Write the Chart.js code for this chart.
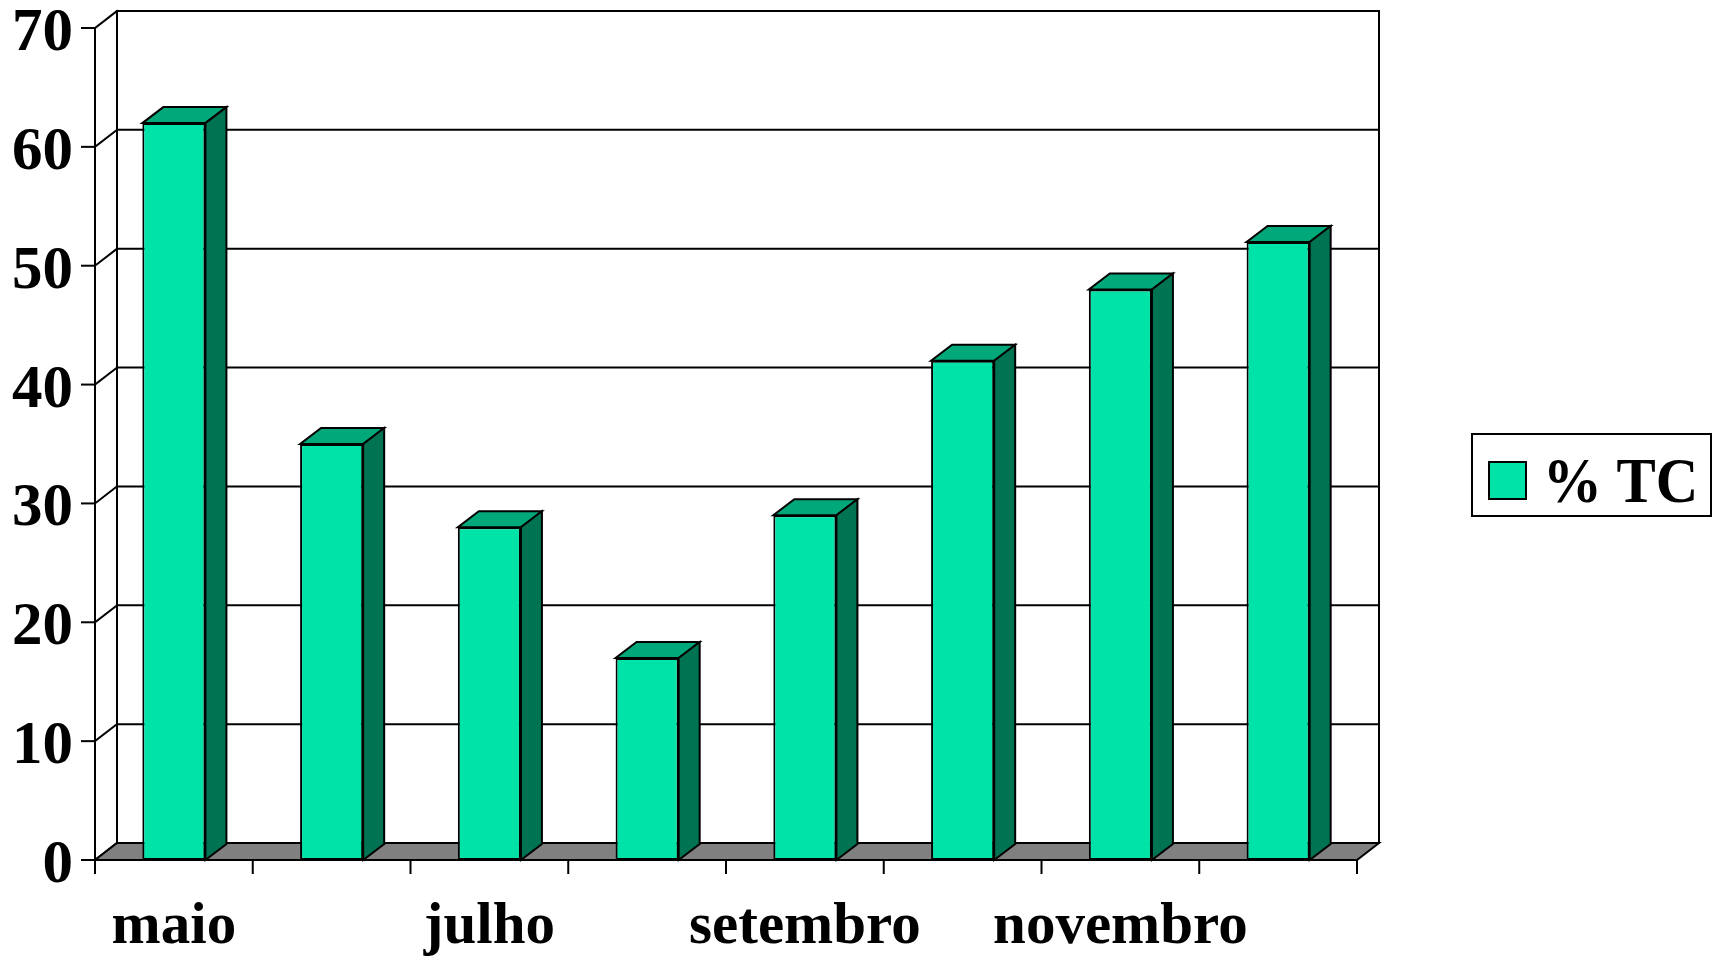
<!DOCTYPE html>
<html>
<head>
<meta charset="utf-8">
<title>% TC</title>
<script src="https://cdn.jsdelivr.net/npm/chart.js@4/dist/chart.umd.min.js"></script>
<style>
  html, body { margin: 0; padding: 0; background: #ffffff; }
  canvas { display: block; }
</style>
</head>
<body>
<canvas id="chart" width="1719" height="956"></canvas>
<script>
// Monthly share of TC (%)
const months = ['maio', 'junho', 'julho', 'agosto', 'setembro', 'outubro', 'novembro', 'dezembro'];
const tcValues = [62, 35, 28, 17, 29, 42, 48, 52];
const yTicks = [0, 10, 20, 30, 40, 50, 60, 70];
const seriesLabel = '% TC';

const FRONT = '#00E3A8';
const TOP = '#00A87A';
const SIDE = '#007352';
const FLOOR = '#808080';
const FONT = '"Liberation Serif", "Times New Roman", serif';

// depth of the 3-D box (walls) and of each column
const WALL_DX = 22, WALL_DY = -17;
const BAR_DX = 21, BAR_DY = -16;

function line(ctx, x1, y1, x2, y2) {
  ctx.beginPath();
  ctx.moveTo(x1, y1);
  ctx.lineTo(x2, y2);
  ctx.stroke();
}

function poly(ctx, pts, fill) {
  ctx.beginPath();
  ctx.moveTo(pts[0][0], pts[0][1]);
  for (let i = 1; i < pts.length; i++) ctx.lineTo(pts[i][0], pts[i][1]);
  ctx.closePath();
  ctx.fillStyle = fill;
  ctx.fill();
  ctx.stroke();
}

const box3d = {
  id: 'box3d',
  beforeDatasetsDraw(chart) {
    const ctx = chart.ctx;
    const { left, right } = chart.chartArea;
    const ys = chart.scales.y;
    const xs = chart.scales.x;
    const yMin = ys.getPixelForValue(yTicks[0]);
    const yMax = ys.getPixelForValue(yTicks[yTicks.length - 1]);
    ctx.save();
    ctx.strokeStyle = '#000';
    ctx.lineWidth = 2;
    ctx.lineCap = 'square';

    // back-wall gridlines and left-wall diagonals
    yTicks.forEach(v => {
      const py = ys.getPixelForValue(v);
      if (v > 0) line(ctx, left + WALL_DX, py + WALL_DY, right + WALL_DX, py + WALL_DY);
      line(ctx, left, py, left + WALL_DX, py + WALL_DY);
    });
    // back-wall edges
    line(ctx, left + WALL_DX, yMax + WALL_DY, left + WALL_DX, yMin + WALL_DY);
    line(ctx, right + WALL_DX, yMax + WALL_DY, right + WALL_DX, yMin + WALL_DY);

    // floor
    poly(ctx, [[left, yMin], [right, yMin], [right + WALL_DX, yMin + WALL_DY], [left + WALL_DX, yMin + WALL_DY]], FLOOR);

    // front value axis and its ticks
    line(ctx, left, yMax, left, yMin);
    yTicks.forEach(v => {
      const py = ys.getPixelForValue(v);
      line(ctx, left - 13, py, left, py);
    });

    // category ticks at the boundaries
    const step = xs.getPixelForValue(1) - xs.getPixelForValue(0);
    for (let i = 0; i <= months.length; i++) {
      const px = xs.getPixelForValue(0) - step / 2 + i * step;
      line(ctx, px, yMin, px, yMin + 13);
    }
    ctx.restore();
  },
  afterDatasetsDraw(chart) {
    const ctx = chart.ctx;
    const meta = chart.getDatasetMeta(0);
    ctx.save();
    ctx.strokeStyle = '#000';
    ctx.lineWidth = 2;
    ctx.lineJoin = 'miter';
    meta.data.forEach(bar => {
      const p = bar.getProps(['x', 'y', 'base', 'width'], true);
      const l = p.x - p.width / 2, r = p.x + p.width / 2;
      // top face
      poly(ctx, [[l, p.y], [r, p.y], [r + BAR_DX, p.y + BAR_DY], [l + BAR_DX, p.y + BAR_DY]], TOP);
      // side face
      poly(ctx, [[r, p.y], [r + BAR_DX, p.y + BAR_DY], [r + BAR_DX, p.base + BAR_DY], [r, p.base]], SIDE);
    });
    ctx.restore();
  },
  afterDraw(chart) {
    const ctx = chart.ctx;
    const { left } = chart.chartArea;
    const ys = chart.scales.y;
    const xs = chart.scales.x;
    ctx.save();
    ctx.fillStyle = '#000';

    // value labels
    ctx.font = 'bold 61px ' + FONT;
    ctx.textAlign = 'right';
    ctx.textBaseline = 'alphabetic';
    yTicks.forEach(v => {
      ctx.fillText(String(v), left - 22, ys.getPixelForValue(v) + 22);
    });

    // month labels (every second one)
    ctx.font = 'bold 59px ' + FONT;
    ctx.textAlign = 'center';
    months.forEach((m, i) => {
      if (i % 2 === 0) ctx.fillText(m, xs.getPixelForValue(i), 943);
    });

    // legend
    ctx.strokeStyle = '#000';
    ctx.lineWidth = 2;
    ctx.strokeRect(1472, 434, 239, 82);
    ctx.fillStyle = FRONT;
    ctx.fillRect(1489, 462, 37, 37);
    ctx.strokeRect(1489, 462, 37, 37);
    ctx.fillStyle = '#000';
    ctx.textAlign = 'left';
    ctx.font = 'bold 64px ' + FONT;
    ctx.translate(1543, 502);
    ctx.scale(0.92, 1);
    ctx.fillText(chart.data.datasets[0].label, 0, 0);
    ctx.restore();
  }
};

new Chart(document.getElementById('chart'), {
  type: 'bar',
  data: {
    labels: months,
    datasets: [{
      label: seriesLabel,
      data: tcValues,
      backgroundColor: FRONT,
      borderColor: '#000',
      borderWidth: 2,
      borderSkipped: false,
      barPercentage: 0.4,
      categoryPercentage: 1.0
    }]
  },
  options: {
    responsive: false,
    devicePixelRatio: 1,
    animation: false,
    layout: { padding: { left: 95, right: 362, top: 28, bottom: 96 } },
    plugins: { legend: { display: false }, tooltip: { enabled: false } },
    scales: {
      x: { display: false, offset: true },
      y: { display: false, min: 0, max: 70 }
    }
  },
  plugins: [box3d]
});
</script>
</body>
</html>
